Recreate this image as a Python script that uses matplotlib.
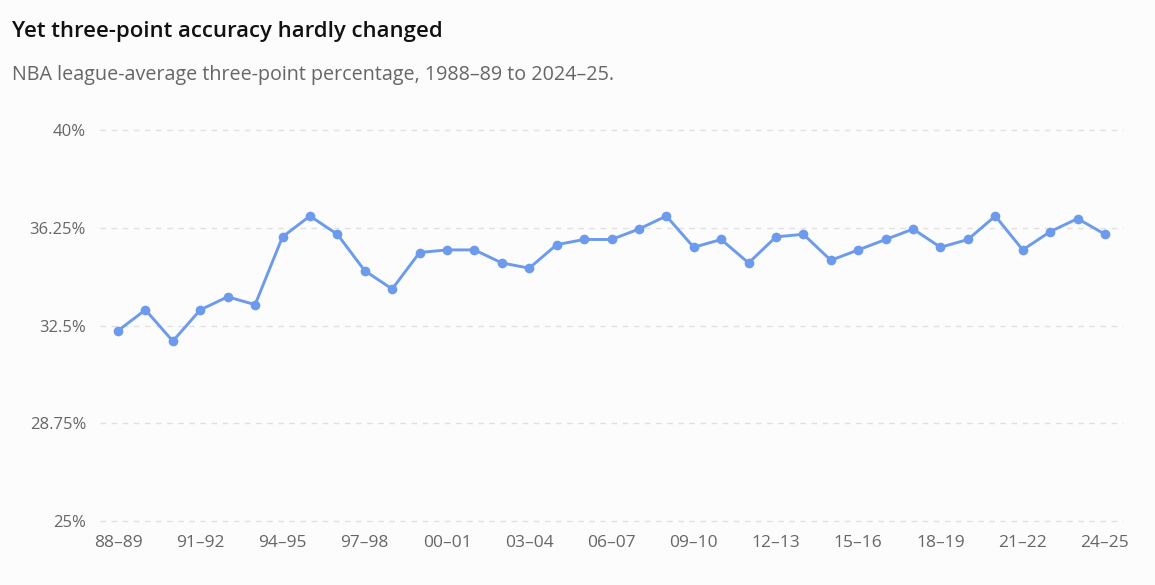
import numpy as np
import matplotlib
matplotlib.use('Agg')
import matplotlib.pyplot as plt

# NBA league-average 3P%, 1988-89 .. 2024-25
seasons = ['88–89', '89–90', '90–91', '91–92', '92–93', '93–94', '94–95', '95–96',
           '96–97', '97–98', '98–99', '99–00', '00–01', '01–02', '02–03', '03–04',
           '04–05', '05–06', '06–07', '07–08', '08–09', '09–10', '10–11', '11–12',
           '12–13', '13–14', '14–15', '15–16', '16–17', '17–18', '18–19', '19–20',
           '20–21', '21–22', '22–23', '23–24', '24–25']
three_pct = [32.3, 33.1, 31.9, 33.1, 33.6, 33.3, 35.9, 36.7,
             36.0, 34.6, 33.9, 35.3, 35.4, 35.4, 34.9, 34.7,
             35.6, 35.8, 35.8, 36.2, 36.7, 35.5, 35.8, 34.9,
             35.9, 36.0, 35.0, 35.4, 35.8, 36.2, 35.5, 35.8,
             36.7, 35.4, 36.1, 36.6, 36.0]
y_ticks = [25, 28.75, 32.5, 36.25, 40]
y_tick_labels = ['25%', '28.75%', '32.5%', '36.25%', '40%']

plt.rcParams['font.family'] = ['Open Sans', 'DejaVu Sans']

bg = '#fcfcfc'
fig = plt.figure(figsize=(11.55, 5.85), dpi=100, facecolor=bg)
ax = fig.add_axes([100/1155, 1 - 521/585, 1023/1155, 391/585], facecolor=bg)

x = np.arange(len(seasons))
ax.plot(x, three_pct, color='#6d9beb', lw=2.1, marker='o', ms=7,
        markeredgewidth=0, solid_capstyle='round', zorder=3)

ax.set_ylim(25, 40)
ax.set_xlim(-18/27.4, len(seasons) - 1 + 18/27.4)
ax.set_yticks(y_ticks)
ax.set_yticklabels(y_tick_labels)
ax.set_xticks(x[::3])
ax.set_xticklabels(seasons[::3])

for yv in y_ticks:
    ax.axhline(yv, color='#e0e0e0', lw=1, ls=(0, (4, 4)), zorder=1, clip_on=False)

for s in ax.spines.values():
    s.set_visible(False)
ax.tick_params(length=0, colors='#666666', labelsize=12)
ax.tick_params(axis='y', pad=10)
ax.tick_params(axis='x', labelsize=12.5, pad=10)

fig.text(12/1155, 1 - 31/585, 'Yet three-point accuracy hardly changed',
         fontsize=15.9, fontweight=600, color='#111111', va='center', ha='left')
fig.text(12/1155, 1 - 75/585, 'NBA league-average three-point percentage, 1988–89 to 2024–25.',
         fontsize=14.2, color='#666666', va='center', ha='left')

fig.savefig('out.png', dpi=100, facecolor=bg)
